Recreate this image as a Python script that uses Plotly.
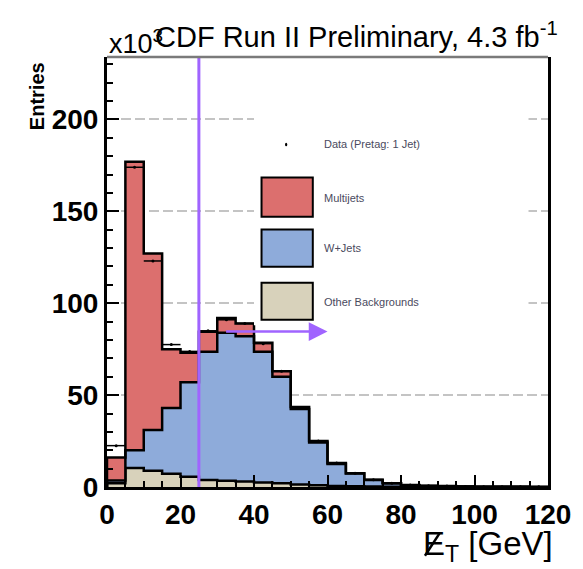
import plotly.graph_objects as go

# Missing-ET spectrum, 5 GeV bins from 0 to 120 GeV (entries in units of 10^3)
bin_edges = [0, 5, 10, 15, 20, 25, 30, 35, 40, 45, 50, 55, 60, 65, 70, 75, 80,
             85, 90, 95, 100, 105, 110, 115, 120]

other_bkg = [2.0, 10.3, 8.9, 7.2, 5.6, 3.8, 3.4, 3.0, 2.5, 2.0, 1.4, 0.9,
             0.6, 0.4, 0.3, 0.2, 0.1, 0.1, 0.1, 0.05, 0.05, 0.05, 0.0, 0.0]
w_jets = [1.5, 9.7, 22.1, 35.8, 51.4, 69.8, 80.6, 79.0, 71.1, 58.0, 41.0, 23.3,
          11.9, 6.9, 3.5, 1.8, 0.9, 0.5, 0.35, 0.25, 0.15, 0.1, 0.1, 0.05]
multijets = [12.5, 157.0, 96.0, 32.0, 16.0, 10.9, 8.0, 7.0, 4.9, 3.0, 1.1, 0.8,
             0.5, 0.2, 0.2, 0.1, 0.1, 0.1, 0.05, 0.0, 0.0, 0.0, 0.0, 0.0]
data_counts = [22.5, 174.0, 123.0, 77.5, 73.8, 85.0, 91.0, 89.0, 78.0, 63.0,
               43.0, 25.0, 13.0, 7.5, 4.0, 2.0, 1.1, 0.7, 0.5, 0.3, 0.2, 0.2,
               0.1, 0.1]

x_ticks = [0, 20, 40, 60, 80, 100, 120]
y_ticks = [0, 50, 100, 150, 200]

met_cut = 25          # GeV, selection cut
arrow_span = (32, 60)  # GeV, "events kept" arrow
arrow_level = 84.6

Y_MAX = 234
RED = "#dc6f6e"
BLUE = "#8eabda"
BEIGE = "#d8d2bb"
PURPLE = "#a064ff"
FONT = "Liberation Sans, Arial"


def step_xy(values):
    """Closed step outline for a histogram drawn with line_shape='hv'."""
    xs = [bin_edges[0]] + list(bin_edges) + [bin_edges[-1]]
    ys = [0.0] + list(values) + [values[-1], 0.0]
    return xs, ys


stack1 = other_bkg
stack2 = [a + b for a, b in zip(stack1, w_jets)]
stack3 = [a + b for a, b in zip(stack2, multijets)]

fig = go.Figure()
for vals, color, fill in [(stack1, BEIGE, "tozeroy"),
                          (stack2, BLUE, "tonexty"),
                          (stack3, RED, "tonexty")]:
    xs, ys = step_xy(vals)
    fig.add_trace(go.Scatter(
        x=xs, y=ys, mode="lines", line_shape="hv",
        line=dict(color="black", width=2.5),
        fill=fill, fillcolor=color, showlegend=False, hoverinfo="skip"))

centers = [(lo + hi) / 2 for lo, hi in zip(bin_edges[:-1], bin_edges[1:])]
half_widths = [(hi - lo) / 2 for lo, hi in zip(bin_edges[:-1], bin_edges[1:])]
fig.add_trace(go.Scatter(
    x=centers, y=data_counts, mode="markers",
    marker=dict(color="black", size=3),
    error_x=dict(type="data", array=half_widths, color="black",
                 thickness=1.5, width=0),
    showlegend=False))

shapes = []
# selection cut line
shapes.append(dict(type="line", xref="x", yref="y", x0=met_cut, x1=met_cut,
                   y0=0, y1=Y_MAX, line=dict(color=PURPLE, width=3),
                   layer="above"))
# top frame
shapes.append(dict(type="line", xref="paper", yref="paper", x0=0, x1=1,
                   y0=1, y1=1, line=dict(color="#7a7a7a", width=2.5)))

# legend panel
shapes.append(dict(type="rect", xref="x", yref="y", x0=40, x1=114.7,
                   y0=88, y1=214, fillcolor="white",
                   line=dict(width=0), layer="above"))
legend_rows = [
    ("Multijets", RED, 147.1, 168.4, 157.5),
    ("W+Jets", BLUE, 119.9, 140.1, 130.2),
    ("Other Backgrounds", BEIGE, 91.0, 111.2, 100.8),
]
for _, color, y0, y1, _ in legend_rows:
    shapes.append(dict(type="rect", xref="x", yref="y", x0=42.05, x1=56.0,
                       y0=y0, y1=y1, fillcolor=color,
                       line=dict(color="black", width=2), layer="above"))
shapes.append(dict(type="circle", xref="x", yref="y",
                   x0=48.45, x1=49.05, y0=185.4, y1=187.4,
                   fillcolor="black", line=dict(width=0), layer="above"))

# slash through the E of the missing-ET symbol
shapes.append(dict(type="line", xref="paper", yref="paper",
                   x0=0.721, y0=-0.160, x1=0.754, y1=-0.108,
                   line=dict(color="black", width=2.5)))

annotations = []
legend_font = dict(family=FONT, size=11, color="#4a4a5e")
annotations.append(dict(x=58.4, y=186.4, xref="x", yref="y",
                        text="Data (Pretag: 1 Jet)", showarrow=False,
                        xanchor="left", yanchor="middle", font=legend_font))
for label, _, _, _, yc in legend_rows:
    annotations.append(dict(x=58.4, y=yc, xref="x", yref="y", text=label,
                            showarrow=False, xanchor="left",
                            yanchor="middle", font=legend_font))

# arrow marking the accepted region
annotations.append(dict(x=arrow_span[1], y=arrow_level, ax=arrow_span[0],
                        ay=arrow_level, xref="x", yref="y", axref="x",
                        ayref="y", text="", showarrow=True, arrowhead=2,
                        arrowsize=1.5, arrowwidth=2.5, arrowcolor=PURPLE))

# header, exponent, axis titles
annotations.append(dict(x=0.104, y=1.004, xref="paper", yref="paper",
                        text="CDF Run II Preliminary, 4.3 fb<sup>-1</sup>",
                        showarrow=False, xanchor="left", yanchor="bottom",
                        font=dict(family=FONT, size=29, color="black")))
annotations.append(dict(x=0.0, y=0.99, xref="paper", yref="paper",
                        text="x10<sup>3</sup>", showarrow=False,
                        xanchor="left", yanchor="bottom",
                        font=dict(family=FONT, size=27, color="black")))
annotations.append(dict(x=-0.16, y=0.91, xref="paper", yref="paper",
                        text="<b>Entries</b>", showarrow=False,
                        textangle=-90, xanchor="center", yanchor="middle",
                        font=dict(family=FONT, size=20, color="black")))
annotations.append(dict(x=1.015, y=-0.137, xref="paper", yref="paper",
                        text="E<sub>T</sub> [GeV]", showarrow=False,
                        xanchor="right", yanchor="middle",
                        font=dict(family=FONT, size=33, color="black")))

tick_font = dict(family=FONT, size=28, color="black", weight="bold")

fig.update_layout(
    width=583, height=569,
    margin=dict(l=107, r=28, t=57, b=82),
    paper_bgcolor="white", plot_bgcolor="white",
    shapes=shapes, annotations=annotations,
    xaxis=dict(range=[0, 120], tickvals=x_ticks,
               ticktext=[str(v) for v in x_ticks],
               ticks="inside", ticklen=12, tickwidth=2, tickcolor="black",
               minor=dict(dtick=5, tick0=0, ticks="inside", ticklen=6,
                          tickwidth=2, tickcolor="black"),
               showline=True, linecolor="black", linewidth=3, mirror=False,
               showgrid=False, zeroline=False, tickfont=tick_font),
    yaxis=dict(range=[0, Y_MAX], tickvals=y_ticks,
               ticktext=[str(v) for v in y_ticks],
               ticks="inside", ticklen=12, tickwidth=2, tickcolor="black",
               minor=dict(dtick=10, tick0=0, ticks="inside", ticklen=6,
                          tickwidth=2, tickcolor="black"),
               showline=True, linecolor="black", linewidth=3, mirror=True,
               showgrid=True, gridcolor="#c4c4c4", gridwidth=2,
               griddash="10px,4px", zeroline=False, tickfont=tick_font),
)

fig.write_html("out.html")
